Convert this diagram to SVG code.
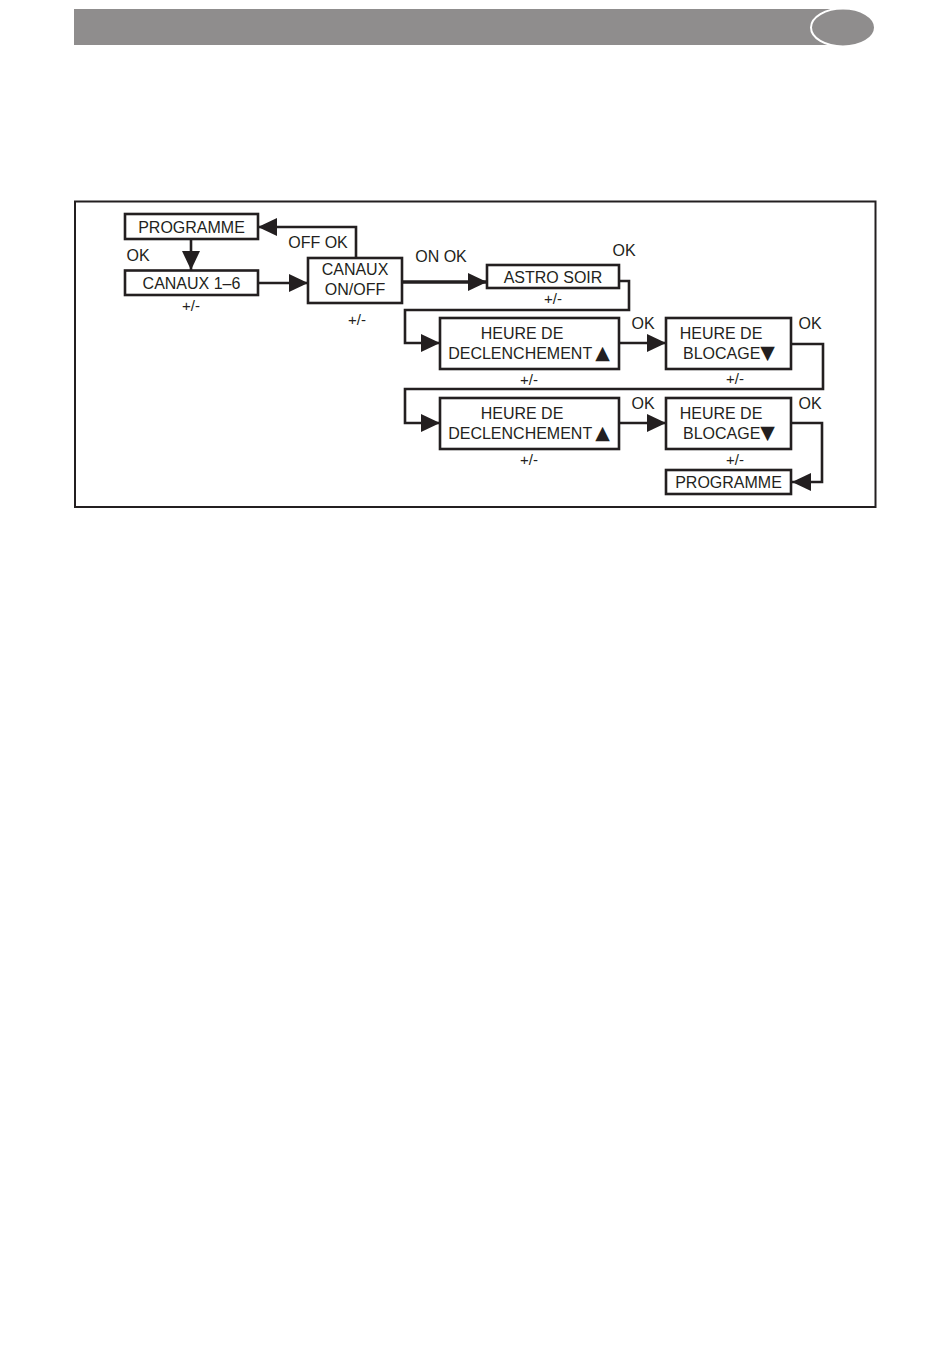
<svg xmlns="http://www.w3.org/2000/svg" width="950" height="1355" viewBox="0 0 950 1355">
<style>
.box{fill:#fff;stroke:#231f20;stroke-width:2.6}
.t{font-family:"Liberation Sans",Arial,sans-serif;font-size:16px;fill:#231f20;text-anchor:middle}
.s{font-family:"Liberation Sans",Arial,sans-serif;font-size:15px;fill:#231f20;text-anchor:middle}
.c{fill:none;stroke:#231f20;stroke-width:2.6}
.thick{stroke-width:3.6}
.sym{font-family:"DejaVu Sans",sans-serif;font-size:19px}
</style>
<defs>
<marker id="ah" markerUnits="userSpaceOnUse" markerWidth="22" markerHeight="18" refX="19" refY="9" orient="auto">
<path d="M0,0 L19,9 L0,18 Z" fill="#231f20"/>
</marker>
</defs>
<rect width="950" height="1355" fill="#fff"/>
<g id="header">
<rect x="74" y="9" width="770" height="36" fill="#8f8d8d"/>
<ellipse cx="843" cy="27.5" rx="32" ry="19" fill="#8f8d8d" stroke="#fff" stroke-width="2"/>
</g>
<rect id="frame" x="75" y="201.5" width="800.5" height="305.5" fill="none" stroke="#231f20" stroke-width="2"/>
<g id="connectors">
<path class="c" d="M191,239 V270" marker-end="url(#ah)"/>
<path class="c" d="M258,283 H308" marker-end="url(#ah)"/>
<path class="c" d="M356,258 V227 H258" marker-end="url(#ah)"/>
<path class="c thick" d="M402,282 H487" marker-end="url(#ah)"/>
<path class="c" d="M619,281 H629 V310 H405 V343 H440" marker-end="url(#ah)"/>
<path class="c" d="M619,343 H666" marker-end="url(#ah)"/>
<path class="c" d="M791,344 H823 V389 H405 V423 H440" marker-end="url(#ah)"/>
<path class="c" d="M619,423 H666" marker-end="url(#ah)"/>
<path class="c" d="M791,423 H822 V482 H792" marker-end="url(#ah)"/>
</g>
<g id="labels">
<text class="t" x="138" y="261">OK</text>
<text class="t" x="318" y="248">OFF OK</text>
<text class="t" x="441" y="262">ON OK</text>
<text class="t" x="624" y="256">OK</text>
<text class="t" x="643" y="329">OK</text>
<text class="t" x="810" y="329">OK</text>
<text class="t" x="643" y="409">OK</text>
<text class="t" x="810" y="409">OK</text>
<text class="s" x="191" y="311">+/-</text>
<text class="s" x="357" y="325">+/-</text>
<text class="s" x="553" y="304">+/-</text>
<text class="s" x="529" y="385">+/-</text>
<text class="s" x="735" y="384">+/-</text>
<text class="s" x="529" y="465">+/-</text>
<text class="s" x="735" y="465">+/-</text>
</g>
<g id="n-programme1">
<rect class="box" x="125" y="214" width="133" height="25"/>
<text class="t" x="191.5" y="232.5">PROGRAMME</text>
</g>
<g id="n-canaux16">
<rect class="box" x="125" y="270.5" width="133" height="24.5"/>
<text class="t" x="191.5" y="288.5">CANAUX 1–6</text>
</g>
<g id="n-canauxonoff">
<rect class="box" x="308" y="258" width="94" height="45"/>
<text class="t" x="355" y="275">CANAUX</text>
<text class="t" x="355" y="295">ON/OFF</text>
</g>
<g id="n-astrosoir">
<rect class="box" x="487" y="265" width="132" height="23"/>
<text class="t" x="553" y="282.5">ASTRO SOIR</text>
</g>
<g id="n-decl1">
<rect class="box" x="440" y="318" width="179" height="51"/>
<text class="t" x="522" y="339">HEURE DE</text>
<text class="t" x="529" y="359">DECLENCHEMENT<tspan class="sym" dx="3">▲</tspan></text>
</g>
<g id="n-bloc1">
<rect class="box" x="666" y="318" width="125" height="51"/>
<text class="t" x="721" y="339">HEURE DE</text>
<text class="t" x="729" y="359">BLOCAGE<tspan class="sym">▼</tspan></text>
</g>
<g id="n-decl2">
<rect class="box" x="440" y="398" width="179" height="51"/>
<text class="t" x="522" y="419">HEURE DE</text>
<text class="t" x="529" y="439">DECLENCHEMENT<tspan class="sym" dx="3">▲</tspan></text>
</g>
<g id="n-bloc2">
<rect class="box" x="666" y="398" width="125" height="51"/>
<text class="t" x="721" y="419">HEURE DE</text>
<text class="t" x="729" y="439">BLOCAGE<tspan class="sym">▼</tspan></text>
</g>
<g id="n-programme2">
<rect class="box" x="666" y="470" width="125" height="24"/>
<text class="t" x="728.5" y="487.5">PROGRAMME</text>
</g>
</svg>
